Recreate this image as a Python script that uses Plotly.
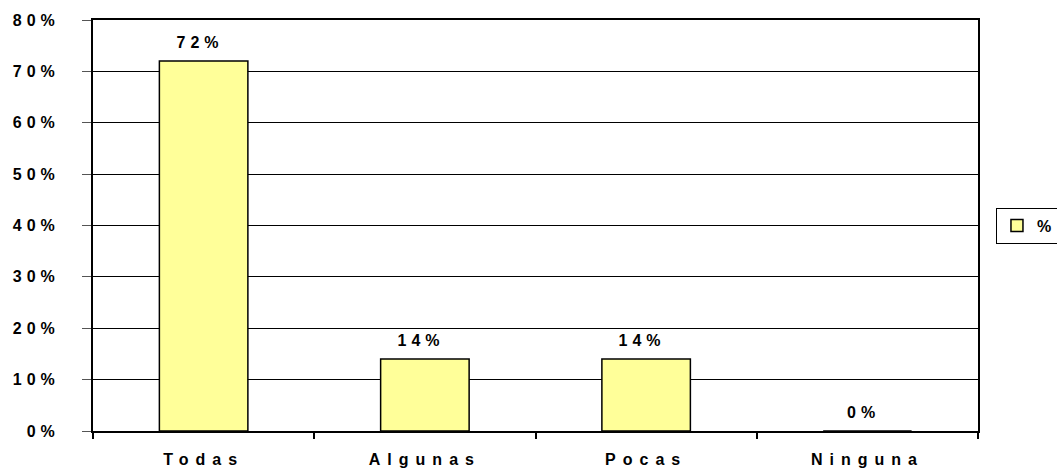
import plotly.graph_objects as go

categories = ["Todas", "Algunas", "Pocas", "Ninguna"]
shares = [0.72, 0.14, 0.14, 0.0]
series_name = "%"
y_ticks = [0, 0.1, 0.2, 0.3, 0.4, 0.5, 0.6, 0.7, 0.8]

font = {"family": "Liberation Sans, Arial, sans-serif", "size": 16, "color": "black", "weight": "bold"}

fig = go.Figure()
fig.add_trace(
    go.Bar(
        x=categories,
        y=shares,
        name=series_name,
        marker={"color": "#FFFF99", "line": {"color": "black", "width": 1.5}},
        width=0.4,
    )
)

for cat, val in zip(categories, shares):
    fig.add_annotation(
        x=cat,
        y=val,
        text=f"{val:.0%}",
        showarrow=False,
        yanchor="bottom",
        yshift=8,
        xshift=-4,
        font=font,
    )

fig.update_layout(
    width=1057,
    height=470,
    paper_bgcolor="white",
    plot_bgcolor="white",
    font=font,
    margin={"l": 93, "r": 79, "t": 20, "b": 39, "autoexpand": False},
    showlegend=True,
    legend={
        "x": 1.0203,
        "xanchor": "left",
        "y": 0.5,
        "yanchor": "middle",
        "bordercolor": "black",
        "borderwidth": 1,
        "font": font,
    },
    xaxis={
        "showline": True,
        "linecolor": "black",
        "linewidth": 2,
        "mirror": True,
        "ticks": "outside",
        "tickson": "boundaries",
        "ticklen": 6,
        "tickcolor": "black",
        "tickwidth": 2,
        "showgrid": False,
        "ticklabelstandoff": 13,
        "automargin": False,
    },
    yaxis={
        "range": [0, 0.8],
        "tickvals": y_ticks,
        "tickformat": ".0%",
        "showgrid": True,
        "gridcolor": "black",
        "gridwidth": 1,
        "showline": True,
        "linecolor": "black",
        "linewidth": 2,
        "mirror": True,
        "ticks": "outside",
        "ticklen": 9,
        "tickcolor": "#555",
        "zeroline": False,
        "ticklabelstandoff": 19,
        "automargin": False,
    },
)

page_css = (
    "var s=document.createElement('style');"
    "s.textContent='body{margin:0}"
    ".xtick text{letter-spacing:7px}"
    ".ytick text{letter-spacing:5px}"
    ".annotation-text{letter-spacing:5px}';"
    "document.head.appendChild(s);"
)

fig.write_html("out.html", post_script=page_css, config={"displayModeBar": False})
